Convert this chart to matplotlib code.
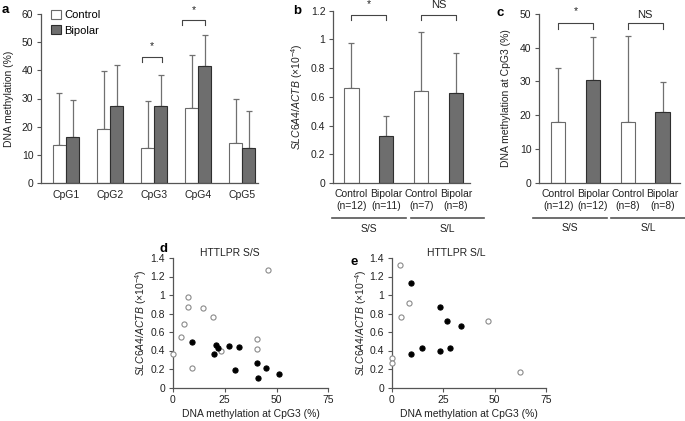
import numpy as np
import matplotlib
matplotlib.use("Agg")
import matplotlib.pyplot as plt
import matplotlib.transforms as mtransforms

plt.rcParams['font.family'] = ['Liberation Sans', 'DejaVu Sans']
plt.rcParams['mathtext.fontset'] = 'custom'
plt.rcParams['mathtext.rm'] = 'Liberation Sans'
plt.rcParams['mathtext.it'] = 'Liberation Sans:italic'
plt.rcParams['font.size'] = 7.5

# --- data ---
cpg_labels = ["CpG1", "CpG2", "CpG3", "CpG4", "CpG5"]
a_control = [13.5, 19.3, 12.3, 26.6, 14.1]
a_control_sd = [18.6, 20.5, 16.8, 18.7, 15.9]
a_bipolar = [16.4, 27.3, 27.3, 41.7, 12.5]
a_bipolar_sd = [13.0, 14.5, 10.9, 10.9, 13.1]

group_labels = ["Control", "Bipolar", "Control", "Bipolar"]
b_n = ["(n=12)", "(n=11)", "(n=7)", "(n=8)"]
b_means = [0.665, 0.328, 0.644, 0.63]
b_sd = [0.31, 0.14, 0.41, 0.275]

c_n = ["(n=12)", "(n=12)", "(n=8)", "(n=8)"]
c_means = [17.9, 30.4, 17.9, 21.0]
c_sd = [16.0, 12.6, 25.5, 8.9]

genotypes = ["S/S", "S/L"]

d_ctrl_x = [0, 3.9, 5.6, 7.2, 7.2, 9.3, 14.5, 19.4, 23.4, 40.5, 40.6, 45.8]
d_ctrl_y = [0.36, 0.55, 0.69, 0.87, 0.98, 0.21, 0.86, 0.76, 0.39, 0.52, 0.42, 1.27]
d_bip_x = [9.5, 20.1, 20.7, 21.7, 27.1, 32.0, 30.2, 40.5, 40.9, 45.0, 51.2]
d_bip_y = [0.49, 0.36, 0.46, 0.43, 0.45, 0.44, 0.19, 0.27, 0.105, 0.21, 0.15]

e_ctrl_x = [4.1, 8.3, 4.4, 0, 0, 46.8, 62.3]
e_ctrl_y = [1.32, 0.91, 0.76, 0.32, 0.27, 0.72, 0.165]
e_bip_x = [9.6, 23.7, 27.0, 33.6, 14.8, 23.4, 28.1, 9.3]
e_bip_y = [1.135, 0.865, 0.72, 0.66, 0.43, 0.40, 0.43, 0.36]

W, H = 685, 421
CTRL_FACE = "white"
CTRL_EDGE = "#6a6a6a"
BIP_FACE = "#6e6e6e"
BIP_EDGE = "#2e2e2e"
ERR = "#707070"
SPINE = "#555555"
TXT = "#222222"


def px_axes(left, top, right, bottom):
    return fig.add_axes([left / W, 1 - bottom / H, (right - left) / W, (bottom - top) / H])


def style(ax):
    for s in ["top", "right"]:
        ax.spines[s].set_visible(False)
    for s in ["left", "bottom"]:
        ax.spines[s].set_color(SPINE)
        ax.spines[s].set_linewidth(0.9)
    ax.tick_params(colors=SPINE, labelcolor=TXT, length=3, width=0.8, labelsize=7.5, pad=2.5)


def upper_err(ax, x, m, sd):
    ax.errorbar(x, m, yerr=[np.zeros(len(m)), sd], fmt="none", ecolor=ERR,
                elinewidth=0.9, capsize=2, capthick=0.9, zorder=1)


def bracket(ax, x0, x1, y, h, label, ty, fs=7.5):
    ax.plot([x0, x0, x1, x1], [y - h, y, y, y - h], color="#444444", lw=0.8, clip_on=False)
    ax.text((x0 + x1) / 2, ty, label, ha="center", va="center", fontsize=fs, color=TXT, clip_on=False)


fig = plt.figure(figsize=(W / 100, H / 100), dpi=100)

# ---------------- panel a ----------------
ax = px_axes(41, 14, 258, 183)
style(ax)
x = np.arange(len(cpg_labels))
bw = 0.3
ax.bar(x - bw / 2, a_control, bw, color=CTRL_FACE, edgecolor=CTRL_EDGE, lw=0.8, zorder=2, label="Control")
ax.bar(x + bw / 2, a_bipolar, bw, color=BIP_FACE, edgecolor=BIP_EDGE, lw=0.8, zorder=2, label="Bipolar")
upper_err(ax, x - bw / 2, a_control, a_control_sd)
upper_err(ax, x + bw / 2, a_bipolar, a_bipolar_sd)
ax.set_xlim(-0.57, 4.36)
ax.set_ylim(0, 60)
ax.set_yticks(range(0, 61, 10))
ax.set_xticks(x)
ax.set_xticklabels(cpg_labels)
ax.tick_params(axis="x", length=0, pad=5)
ax.set_ylabel("DNA methylation (%)", va="center", color=TXT)
ax.yaxis.set_label_coords((9 - 41) / 217, 0.5)
bracket(ax, 2 - 0.28, 2 + 0.19, 44.7, 1.8, "*", 48.5)
bracket(ax, 3 - 0.36, 3 + 0.15, 57.9, 1.8, "*", 61.5)
ax.legend(loc="upper left", bbox_to_anchor=(0.0, 1.085), frameon=False, handlelength=0.9,
          handleheight=0.9, handletextpad=0.3, labelspacing=0.45, fontsize=8)

# ---------------- panels b and c ----------------
def group_panel(ax, means, sd, nlabels, ylim, yticks, yticklabels):
    style(ax)
    xs = np.arange(4)
    w = 0.41
    faces = [CTRL_FACE, BIP_FACE, CTRL_FACE, BIP_FACE]
    edges = [CTRL_EDGE, BIP_EDGE, CTRL_EDGE, BIP_EDGE]
    ax.bar(xs, means, w, color=faces, edgecolor=edges, lw=0.8, zorder=2)
    upper_err(ax, xs, means, sd)
    ax.set_ylim(*ylim)
    ax.set_yticks(yticks)
    ax.set_yticklabels(yticklabels)
    ax.set_xticks(xs)
    ax.set_xticklabels([f"{g}\n{n}" for g, n in zip(group_labels, nlabels)], linespacing=1.25)
    ax.tick_params(axis="x", length=0, pad=4)


ax = px_axes(333, 10.7, 470, 183)
group_panel(ax, b_means, b_sd, b_n, (0, 1.2), [0, 0.2, 0.4, 0.6, 0.8, 1, 1.2],
            ["0", "0.2", "0.4", "0.6", "0.8", "1", "1.2"])
ax.set_xlim(-0.53, 3.4)
ax.set_ylabel(r"$\mathit{SLC6A4/ACTB}$ (×10$^{-4}$)", va="center", color=TXT)
ax.yaxis.set_label_coords((297 - 333) / 137, 0.5)
bracket(ax, 0, 1, 1.172, 0.035, "*", 1.245)
bracket(ax, 2, 3, 1.172, 0.035, "NS", 1.24, fs=8)
tr = mtransforms.blended_transform_factory(ax.transData, ax.transAxes)
for (x0, x1), g in zip([(-0.56, 1.56), (1.7, 3.8)], genotypes):
    ax.plot([x0, x1], [-0.205, -0.205], transform=tr, clip_on=False, color="#555555", lw=1.2)
    ax.text((x0 + x1) / 2, -0.265, g, transform=tr, ha="center", va="center", color=TXT)

ax = px_axes(539, 13.7, 680, 183)
group_panel(ax, c_means, c_sd, c_n, (0, 50), range(0, 51, 10),
            [str(v) for v in range(0, 51, 10)])
ax.set_xlim(-0.55, 3.5)
ax.set_ylabel("DNA methylation at CpG3 (%)", va="center", color=TXT)
ax.yaxis.set_label_coords((506 - 539) / 141, 0.5)
bracket(ax, 0, 1, 47.3, 1.7, "*", 50.7)
bracket(ax, 2, 3, 47.3, 1.7, "NS", 49.6, fs=8)
tr = mtransforms.blended_transform_factory(ax.transData, ax.transAxes)
for (x0, x1), g in zip([(-0.72, 1.41), (1.52, 3.65)], genotypes):
    ax.plot([x0, x1], [-0.205, -0.205], transform=tr, clip_on=False, color="#555555", lw=1.2)
    ax.text((x0 + x1) / 2, -0.265, g, transform=tr, ha="center", va="center", color=TXT)

# ---------------- panels d and e ----------------
def scatter_panel(ax, cx, cy, bx, by, title, tx):
    style(ax)
    ax.plot(cx, cy, "o", ms=3.7, mfc="white", mec="#8a8a8a", mew=0.8, ls="none", clip_on=False, zorder=3)
    ax.plot(bx, by, "o", ms=3.7, mfc="black", mec="black", mew=0.8, ls="none", clip_on=False, zorder=3)
    ax.set_xlim(0, 75)
    ax.set_ylim(0, 1.4)
    ax.set_xticks([0, 25, 50, 75])
    ax.set_yticks([0, 0.2, 0.4, 0.6, 0.8, 1, 1.2, 1.4])
    ax.set_yticklabels(["0", "0.2", "0.4", "0.6", "0.8", "1", "1.2", "1.4"])
    ax.set_xlabel("DNA methylation at CpG3 (%)", color=TXT, labelpad=3)
    ax.set_ylabel(r"$\mathit{SLC6A4/ACTB}$ (×10$^{-4}$)", va="center", color=TXT)
    ax.text(tx, 1.04, title, transform=ax.transAxes, ha="center", va="center", color=TXT)


ax = px_axes(172.7, 258, 328.5, 387.5)
scatter_panel(ax, d_ctrl_x, d_ctrl_y, d_bip_x, d_bip_y, "HTTLPR S/S", 0.368)
ax.yaxis.set_label_coords((141 - 172.7) / 155.8, 0.5)

ax = px_axes(391.7, 258, 546, 387.5)
scatter_panel(ax, e_ctrl_x, e_ctrl_y, e_bip_x, e_bip_y, "HTTLPR S/L", 0.417)
ax.yaxis.set_label_coords((361 - 391.7) / 154.3, 0.5)

# panel letters
for lab, (px, py) in {"a": (5, 10), "b": (297, 11.5), "c": (500, 13),
                      "d": (163, 249), "e": (354, 262)}.items():
    fig.text(px / W, 1 - py / H, lab, fontsize=9.5, fontweight="bold", ha="center", va="center")

fig.savefig("out.png", dpi=100)
